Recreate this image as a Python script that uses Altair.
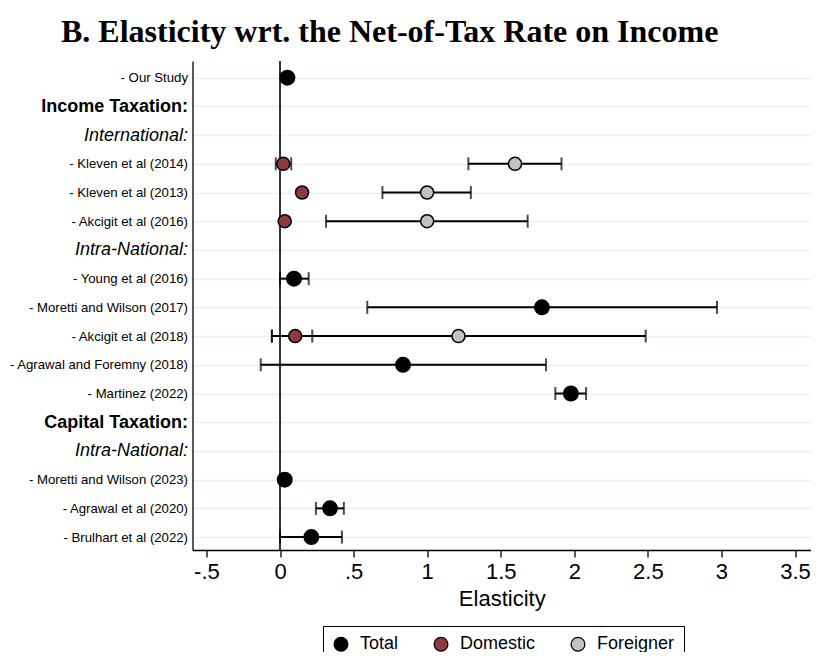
import json
import altair as alt
import pandas as pd

# ---------------- data ----------------
row_labels = [
    "- Our Study",
    "Income Taxation:",
    "International:",
    "- Kleven et al (2014)",
    "- Kleven et al (2013)",
    "- Akcigit et al (2016)",
    "Intra-National:",
    "- Young et al (2016)",
    "- Moretti and Wilson (2017)",
    "- Akcigit et al (2018)",
    "- Agrawal and Foremny (2018)",
    "- Martinez (2022)",
    "Capital Taxation:",
    "Intra-National:",
    "- Moretti and Wilson (2023)",
    "- Agrawal et al (2020)",
    "- Brulhart et al (2022)",
]
bold_rows = [1, 12]
italic_rows = [2, 6, 13]

# Total estimates: row index, estimate, lower, upper
total_rows = [0, 7, 8, 10, 11, 14, 15, 16]
total_est = [0.05, 0.095, 1.78, 0.836, 1.977, 0.032, 0.34, 0.213]
total_lo = [None, 0.0, 0.593, -0.131, 1.871, None, 0.244, 0.0]
total_hi = [None, 0.195, 2.97, 1.808, 2.08, None, 0.434, 0.421]

# Domestic estimates
dom_rows = [3, 4, 5, 9]
dom_est = [0.022, 0.15, 0.032, 0.103]
dom_lo = [-0.029, None, None, -0.055]
dom_hi = [0.076, None, None, 0.219]

# Foreigner estimates
for_rows = [3, 4, 5, 9]
for_est = [1.597, 1.0, 1.0, 1.213]
for_lo = [1.28, 0.696, 0.313, -0.055]
for_hi = [1.913, 1.297, 1.683, 2.485]

x_tick_values = [-0.5, 0, 0.5, 1, 1.5, 2, 2.5, 3, 3.5]
x_tick_labels = ["-.5", "0", ".5", "1", "1.5", "2", "2.5", "3", "3.5"]

groups = ["Total", "Domestic", "Foreigner"]
group_colors = ["#000000", "#8E3A40", "#C2C2C2"]

# ---------------- tables ----------------
recs = []
for grp, rows, est, lo, hi in [
    ("Total", total_rows, total_est, total_lo, total_hi),
    ("Domestic", dom_rows, dom_est, dom_lo, dom_hi),
    ("Foreigner", for_rows, for_est, for_lo, for_hi),
]:
    for r, e, l, h in zip(rows, est, lo, hi):
        recs.append({"row": r, "group": grp, "est": e, "lo": l, "hi": h})
df = pd.DataFrame(recs)
df_ci = df.dropna(subset=["lo", "hi"]).copy()
caps = pd.concat([
    df_ci[["row", "lo"]].rename(columns={"lo": "v"}),
    df_ci[["row", "hi"]].rename(columns={"hi": "v"}),
])

FONT = "Liberation Sans"

xscale = alt.Scale(domain=[-0.5947, 3.6087], nice=False, zero=False)
yscale = alt.Scale(domain=[-0.58, 16.45], nice=False, zero=False, reverse=True)

label_expr = json.dumps(row_labels) + "[datum.value]"
bold_test = " || ".join(f"datum.value == {i}" for i in bold_rows)
ital_test = " || ".join(f"datum.value == {i}" for i in italic_rows)
big_test = " || ".join(f"datum.value == {i}" for i in bold_rows + italic_rows)

x_label_expr = (json.dumps(x_tick_labels) + "[indexof(" +
                json.dumps(x_tick_values) + ", datum.value)]")

x_axis = alt.Axis(
    values=x_tick_values, labelExpr=x_label_expr, title="Elasticity",
    grid=False, domainColor="black", domainWidth=1.3, tickColor="black",
    tickWidth=1.3, tickSize=7, labelFontSize=22, titleFontSize=22,
    labelFont=FONT, titleFont=FONT, titleFontWeight="normal",
    labelColor="black", titleColor="black", labelPadding=4, titlePadding=6,
    labelFlush=False, labelOverlap=False,
)
y_axis = alt.Axis(
    values=list(range(len(row_labels))), labelExpr=label_expr, title=None,
    grid=True, gridColor="#E8F0F3", gridWidth=1.6, ticks=False,
    domainColor="black", domainWidth=1.3, labelFont=FONT, labelColor="black",
    labelPadding=5, labelOverlap=False, labelFlush=False, labelBound=False,
    labelFontSize=alt.expr(f"({big_test}) ? 18 : 13.2"),
    labelFontWeight=alt.expr(f"({bold_test}) ? 'bold' : 'normal'"),
    labelFontStyle=alt.expr(f"({ital_test}) ? 'italic' : 'normal'"),
)

base = alt.Chart(df)

zero_line = alt.Chart(pd.DataFrame({"z": [0]})).mark_rule(
    color="black", strokeWidth=1.6
).encode(x=alt.X("z:Q", scale=xscale, axis=x_axis))

bars = alt.Chart(df_ci).mark_rule(color="black", strokeWidth=2).encode(
    x=alt.X("lo:Q", scale=xscale, axis=x_axis),
    x2="hi:Q",
    y=alt.Y("row:Q", scale=yscale, axis=y_axis),
)

cap_marks = alt.Chart(caps).mark_tick(
    color="black", thickness=2, size=13, orient="vertical"
).encode(
    x=alt.X("v:Q", scale=xscale, axis=x_axis),
    y=alt.Y("row:Q", scale=yscale, axis=y_axis),
)

points = base.mark_point(
    filled=True, shape="circle", stroke="black", strokeWidth=1.5, opacity=1
).encode(
    x=alt.X("est:Q", scale=xscale, axis=x_axis),
    y=alt.Y("row:Q", scale=yscale, axis=y_axis),
    fill=alt.Fill(
        "group:N",
        scale=alt.Scale(domain=groups, range=group_colors),
        legend=alt.Legend(
            title=None, orient="none", legendX=130.5, legendY=565,
            direction="horizontal", columns=3, strokeColor="black",
            padding=9, symbolType="circle", symbolSize=190,
            symbolStrokeColor="black", symbolStrokeWidth=1.3,
            labelFont=FONT, labelFontSize=18, labelColor="black",
            labelOffset=10, columnPadding=32, symbolOpacity=1,
        ),
    ),
    size=alt.condition(alt.datum.group == "Total", alt.value(210), alt.value(170)),
)

chart = alt.layer(zero_line, bars, cap_marks, points).properties(
    width=618.5,
    height=489,
    title=alt.TitleParams(
        "B. Elasticity wrt. the Net-of-Tax Rate on Income",
        font="Liberation Serif", fontSize=32, fontWeight="bold",
        color="black", anchor="start", frame="group", dx=-131.5,
        offset=17, dy=31, baseline="alphabetic",
    ),
    autosize=alt.AutoSizeParams(type="none"),
    padding={"left": 184.5, "top": 53, "right": 0, "bottom": 102},
).configure_view(stroke=None)

chart.save("out.html", embed_options={"renderer": "svg", "actions": False})
